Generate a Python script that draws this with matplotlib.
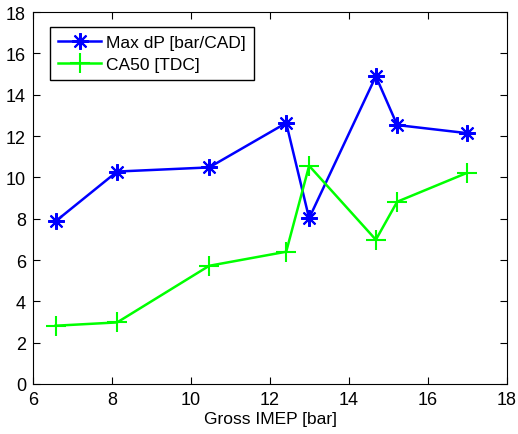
import numpy as np
import matplotlib.pyplot as plt

plt.rcParams['font.family'] = ['Liberation Sans', 'DejaVu Sans']

imep = [6.57, 8.13, 10.46, 12.41, 12.99, 14.68, 15.22, 16.98]
max_dp = [7.87, 10.28, 10.48, 12.63, 8.02, 14.89, 12.53, 12.14]
ca50 = [2.82, 2.98, 5.72, 6.40, 10.56, 6.98, 8.82, 10.21]

fig = plt.figure(figsize=(5.18, 4.35), dpi=100)
ax = fig.add_axes([33/518, 1 - 385/435, 474/518, 372/435])

ax.plot(imep, max_dp, color="blue", marker=(8, 2, 0), markersize=12, markeredgewidth=1.5, linewidth=1.8, label="Max dP [bar/CAD]")
ax.plot(imep, ca50, color="#00ff00", marker="+", markersize=15, markeredgewidth=1.5, linewidth=1.8, label="CA50 [TDC]")

ax.set_xlim(6, 18)
ax.set_ylim(0, 18)
ax.set_xticks(np.arange(6, 19, 2))
ax.set_yticks(np.arange(0, 19, 2))
ax.tick_params(direction="in", top=True, right=True, labelsize=13, length=5, pad=5)
ax.set_xlabel("Gross IMEP [bar]", fontsize=12.5, labelpad=2)

leg = ax.legend(loc="upper left", bbox_to_anchor=(0.036, 0.96), borderaxespad=0, fancybox=False, fontsize=12.5,
                edgecolor="black", framealpha=1, borderpad=0.45, handlelength=2.5, labelspacing=0.4,
                handletextpad=0.3)
leg.get_frame().set_linewidth(1.0)

fig.savefig("out.png", dpi=100)
